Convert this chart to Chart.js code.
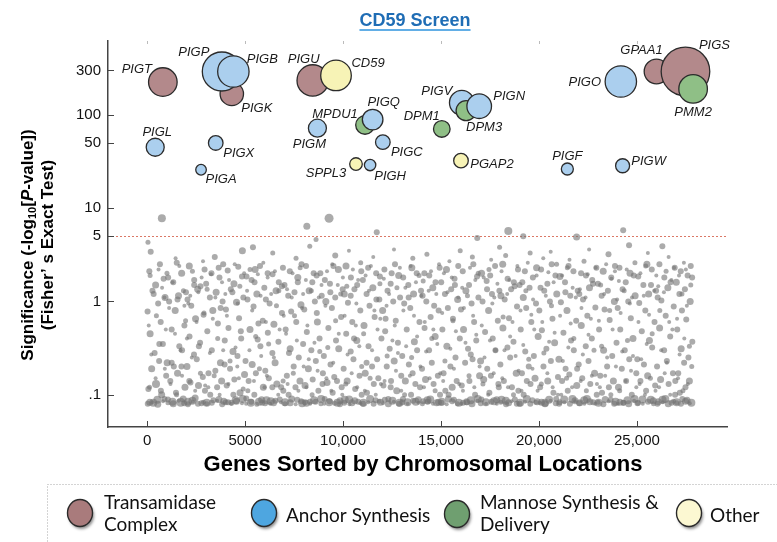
<!DOCTYPE html>
<html>
<head>
<meta charset="utf-8">
<script src="https://cdn.jsdelivr.net/npm/chart.js@4.4.1/dist/chart.umd.min.js"></script>
<style>
  body { margin: 0; background: #fff; }
  #wrap { position: relative; width: 777px; height: 542px; }
</style>
</head>
<body>
<div id="wrap"><canvas id="screenChart" width="777" height="542"></canvas></div>
<script>
// highlighted hits: x = gene rank by chromosomal location, y = -log10(P), r = bubble radius
const geneNames = ["PIGT", "PIGK", "PIGP", "PIGB", "PIGU", "CD59", "PIGM", "MPDU1", "PIGQ", "PIGC", "PIGL", "PIGX", "PIGA",
  "SPPL3", "PIGH", "DPM1", "PIGV", "DPM3", "PIGN", "PGAP2", "PIGF", "PIGW", "PIGO", "GPAA1", "PIGS", "PMM2"];
const geneX = [800, 4320, 3810, 4400, 8450, 9640, 8690, 11120, 11510, 12030, 410, 3500, 2750,
  10660, 11380, 15040, 16060, 16280, 16950, 16020, 21450, 24270, 24180, 26000, 27480, 27870];
const geneY = [225, 168, 292, 292, 234, 265, 72, 78, 89, 51, 45, 50, 25.8,
  29.7, 29, 70.7, 135, 111, 124, 32.3, 26.3, 28.5, 228, 292, 292, 190];
const geneR = [14.3, 11.7, 19.5, 15.7, 15.7, 15.3, 9, 9.3, 10.3, 7.3, 9, 7.3, 5.3,
  6.3, 5.7, 8.3, 12.3, 10, 12.3, 7.3, 6, 7, 15.7, 12.3, 24.3, 14.3];
// 0 transamidase complex, 1 anchor synthesis, 2 mannose synthesis & delivery, 3 other
const geneGroup = [0, 0, 1, 1, 0, 3, 1, 2, 1, 1, 1, 1, 1, 3, 1, 2, 1, 2, 1, 3, 1, 1, 1, 0, 0, 2];

// all the other genes of the screen [x, y, r]
const otherGenes = [
  [30,.08,3],[260,.083,2],[540,.079,3.5],[810,.085,2],[120,.12,2.5],[430,.15,2],[700,.11,3],[900,.19,2],[210,.27,2],[620,.35,3],[80,.55,2],[470,.7,2.5],[330,1.2,3],[760,1.4,2],[150,1.9,2.5],[580,2.2,2],[880,1.1,2],[40,4.3,2.5],[180,3.4,3],[950,.5,2],
  [1060,.082,2.5],[1330,.08,3.5],[1610,.086,2],[1890,.081,3],[1190,.13,2],[1500,.1,2.5],[1780,.16,2],[1250,.22,3],[1700,.3,2],[1420,.45,2],[1960,.62,2.5],[1120,.85,2],[1550,1.05,3],[1300,1.6,2],[1850,1.3,2.5],[1640,2.4,2],[1010,2.0,2.5],[1450,2.9,2],[1750,.2,3],[1900,.9,2],
  [2080,.079,3],[2340,.084,2],[2590,.08,3],[2870,.083,2.5],[2150,.14,3],[2450,.11,2],[2720,.17,2.5],[2960,.125,2],[2280,.25,2],[2640,.33,3],[2030,.4,2],[2520,.6,2],[2900,.75,2.5],[2200,1.15,2],[2400,1.5,3],[2780,1.8,2],[2610,1.25,2],[2310,2.1,2.5],[2850,2.7,2],[2100,.95,2],
  [3040,.08,2.5],[3300,.082,3],[3570,.086,2],[3830,.079,3],[3120,.12,2],[3420,.16,2.5],[3700,.1,2],[3950,.21,3],[3200,.28,2],[3600,.4,2.5],[3880,.3,2],[3350,.65,2],[3750,.85,3],[3060,1.35,2.5],[3480,1.1,2],[3820,1.6,2],[3260,1.95,2],[3650,2.3,3],[3450,3.0,3],[3990,1.2,2],
  [4010,.083,3],[4290,.08,2],[4560,.085,3.5],[4840,.081,2],[4150,.13,2],[4400,.1,3],[4680,.15,2],[4900,.115,2.5],[4230,.23,2.5],[4510,.32,2],[4780,.48,3],[4070,.7,2],[4620,.95,2],[4350,1.25,3],[4730,1.45,2.5],[4180,1.7,2],[4950,2.0,2],[4470,2.5,2],[4860,3.5,3.5],[4600,.2,2],
  [5050,.08,2],[5310,.084,3],[5600,.079,2.5],[5870,.082,3],[5140,.11,2.5],[5450,.14,2],[5730,.19,2.5],[5990,.12,2],[5220,.3,2],[5540,.42,2.5],[5820,.26,2],[5360,.8,2],[5680,.58,3],[5100,1.3,2],[5480,1.6,3],[5790,1.15,2],[5250,2.2,2.5],[5650,1.95,2],[5930,2.6,2],[5400,3.8,3],
  [6020,.081,3],[6280,.08,2],[6550,.086,3],[6830,.083,2],[6110,.16,2],[6390,.12,3],[6690,.1,2],[6940,.14,2.5],[6200,.35,2.5],[6470,.25,2],[6760,.5,2],[6060,.6,2],[6600,.9,2.5],[6330,1.2,2],[6880,1.45,3],[6150,1.8,2],[6520,2.1,2],[6720,1.3,2.5],[6410,3.3,2.5],[6970,.7,2],
  [7030,.08,2.5],[7300,.082,3.5],[7580,.079,2],[7860,.085,3],[7170,.13,2],[7460,.17,2.5],[7720,.11,2],[7990,.2,2],[7240,.28,3],[7640,.38,2],[7090,.45,2],[7520,.7,2.5],[7900,.85,2],[7380,1.1,2],[7690,1.6,3],[7140,1.35,2],[7810,2.3,2.5],[7420,2.0,2],[7600,2.9,2.5],[7960,1.2,2],
  [8050,.083,3],[8320,.08,2],[8600,.084,3],[8870,.08,2.5],[8130,.12,2],[8420,.1,2.5],[8700,.18,2],[8950,.13,3],[8250,.24,2],[8540,.36,2],[8810,.29,2.5],[8180,.55,2],[8660,.75,3],[8380,1.3,2.5],[8760,1.1,2],[8100,1.7,2],[8500,2.0,3],[8900,1.5,2],[8300,3.9,2.5],[8620,4.6,2.5],
  [9040,.08,2],[9310,.085,3],[9570,.081,2.5],[9840,.079,3],[9150,.15,2],[9400,.11,2],[9690,.14,3],[9960,.1,2],[9220,.32,2.5],[9500,.22,2],[9780,.45,2],[9100,.9,2],[9620,.62,2.5],[9350,1.25,3],[9730,1.5,2],[9180,2.1,2],[9880,1.2,2.5],[9450,2.5,2],[9600,3.1,3],[9990,1.8,2],
  [10060,.082,3],[10330,.079,2],[10600,.086,3.5],[10880,.081,2],[10140,.13,2.5],[10440,.17,2],[10720,.12,2],[10950,.2,2.5],[10230,.27,2],[10560,.4,3],[10830,.33,2],[10080,.7,2],[10680,.95,2],[10390,1.15,3],[10770,1.7,2],[10190,1.45,2.5],[10500,2.2,2],[10900,2.6,2.5],[10300,3.5,2],[10650,.55,2],
  [11020,.08,3],[11290,.083,2],[11560,.08,3],[11840,.085,2.5],[11110,.11,2],[11380,.15,2.5],[11670,.1,2],[11930,.13,2],[11200,.22,3],[11480,.3,2],[11760,.5,2],[11050,.45,2.5],[11600,.8,2],[11320,1.3,2],[11700,1.05,3],[11150,1.9,2],[11880,1.55,2.5],[11420,2.4,2],[11540,3.0,2],[11900,.65,2],
  [12040,.081,2],[12310,.08,3.5],[12590,.084,2],[12860,.08,3],[12120,.14,2],[12430,.12,3],[12700,.18,2],[12970,.11,2],[12250,.26,2.5],[12520,.38,2],[12800,.28,2],[12170,.65,3],[12640,.55,2],[12350,1.2,2],[12750,1.4,2.5],[12080,1.75,2],[12480,2.0,3],[12900,2.3,2],[12600,3.6,2],[12220,.9,2],
  [13030,.083,3],[13300,.08,2],[13580,.086,3],[13850,.082,2],[13140,.1,2.5],[13410,.16,2],[13690,.13,3],[13950,.2,2],[13220,.33,2],[13500,.25,2.5],[13780,.42,2],[13080,.8,2],[13620,.7,2],[13350,1.1,3],[13720,1.6,2],[13180,1.4,2],[13880,1.9,2.5],[13450,2.4,2],[13560,2.9,2.5],[13990,1.15,2],
  [14050,.08,2.5],[14320,.084,3],[14590,.08,2],[14870,.083,3.5],[14130,.12,2],[14420,.15,2],[14700,.11,2.5],[14960,.17,2],[14240,.29,2],[14530,.4,2.5],[14810,.35,2],[14170,.6,2],[14650,.9,3],[14370,1.3,2],[14760,1.2,2],[14090,1.65,2.5],[14490,2.1,2],[14900,2.5,2],[14280,3.2,2.5],[14610,.5,2],
  [15020,.082,3],[15290,.079,2],[15570,.085,3],[15840,.08,2.5],[15110,.14,2],[15390,.1,3],[15660,.19,2],[15930,.13,2],[15200,.23,2.5],[15480,.31,2],[15760,.48,2],[15060,.75,2],[15610,.62,2.5],[15330,1.25,2],[15710,1.5,3],[15150,2.0,2],[15880,1.1,2],[15430,2.7,2],[15550,1.8,2],[15980,3.5,2.5],
  [16040,.08,2],[16310,.083,3],[16580,.08,3.5],[16860,.086,2],[16120,.11,2],[16430,.16,2.5],[16700,.12,2],[16970,.2,2],[16250,.36,2],[16520,.27,3],[16800,.44,2],[16170,.85,2],[16640,.7,2],[16350,1.15,2.5],[16750,1.7,2],[16080,1.4,2],[16480,2.3,2],[16900,2.0,2.5],[16600,3.0,2.5],[16850,4.8,3],
  [17030,.081,3],[17300,.08,2],[17570,.084,3],[17850,.08,2],[17140,.13,2.5],[17410,.1,2],[17690,.17,2],[17950,.12,3],[17220,.25,2],[17500,.38,2],[17780,.3,2.5],[17080,.55,2],[17620,.95,2],[17350,1.35,3],[17720,1.1,2],[17180,1.8,2],[17880,1.55,2],[17450,2.2,2.5],[17560,2.8,2],[17990,3.8,2.5],
  [18050,.083,2.5],[18320,.079,3],[18600,.085,2],[18870,.08,3],[18130,.15,2],[18420,.12,2],[18700,.1,2.5],[18960,.18,2],[18240,.3,2],[18530,.42,2],[18810,.26,2],[18170,.68,2.5],[18650,.6,2],[18380,1.2,2],[18760,1.45,3],[18090,2.1,2],[18490,1.7,2],[18900,2.4,2],[18300,3.1,2.5],[18436,5.7,4],
  [19020,.08,3],[19290,.084,2],[19560,.08,3],[19840,.083,2.5],[19110,.11,2],[19380,.14,3],[19670,.19,2],[19930,.11,2],[19200,.34,2],[19480,.24,2.5],[19760,.5,2],[19060,.8,2],[19610,.72,2],[19330,1.3,2.5],[19700,1.05,2],[19150,1.6,3],[19880,1.9,2],[19430,2.6,2],[19200,5.0,3],[19550,3.3,2.5],
  [20040,.082,2],[20310,.08,3.5],[20590,.086,2],[20860,.081,3],[20120,.13,2.5],[20430,.17,2],[20700,.12,2],[20970,.1,2],[20250,.28,2.5],[20520,.37,2],[20800,.46,2],[20170,.6,2],[20640,.9,2.5],[20350,1.15,2],[20750,1.6,2],[20080,1.4,3],[20480,2.05,2],[20900,2.5,2.5],[20600,3.4,2],[20220,2.9,2],
  [21030,.08,3],[21300,.083,2],[21580,.08,3],[21850,.085,2],[21140,.1,2],[21410,.15,2.5],[21690,.12,2],[21950,.19,3],[21220,.23,2],[21500,.32,2],[21780,.4,2.5],[21080,.7,2],[21620,.58,2],[21350,1.25,3],[21720,1.4,2],[21180,1.9,2],[21880,1.1,2],[21450,2.3,2.5],[21923,4.9,3.5],[21560,2.8,2],
  [22050,.081,3],[22320,.08,2],[22600,.084,3.5],[22870,.08,2],[22130,.14,2],[22420,.11,2.5],[22700,.16,2],[22960,.13,2],[22240,.27,2],[22530,.44,2],[22810,.3,2.5],[22170,.85,2],[22650,.65,2],[22380,1.1,2],[22760,1.55,3],[22090,1.35,2],[22490,1.95,2],[22900,2.3,2],[22300,2.7,2.5],[22560,3.6,2],
  [23020,.083,2.5],[23290,.079,3],[23560,.085,2],[23840,.08,3],[23110,.12,2],[23380,.16,2],[23670,.1,2.5],[23930,.2,2],[23200,.33,2.5],[23480,.25,2],[23760,.5,2],[23060,.62,2],[23610,.8,2.5],[23330,1.2,2],[23700,1.75,2],[23150,1.5,2.5],[23880,2.1,2],[23430,2.5,2],[23550,3.2,3],[23990,1.05,2],
  [24040,.08,2],[24310,.082,3],[24580,.08,3.5],[24860,.086,2],[24120,.11,2.5],[24430,.14,2],[24700,.18,2],[24970,.12,2],[24250,.29,2],[24520,.38,2.5],[24800,.26,2],[24170,.75,2],[24640,.95,2],[24350,1.3,2.5],[24750,1.1,2],[24080,1.65,2],[24480,2.2,2],[24900,2.6,2.5],[24300,5.8,3],[24600,4.0,3],
  [25030,.081,3],[25300,.08,2],[25570,.084,3],[25850,.08,2.5],[25140,.13,2],[25410,.1,2],[25690,.15,2.5],[25950,.11,2],[25220,.24,2],[25500,.35,2],[25780,.45,2.5],[25080,.6,2],[25620,.72,2],[25350,1.15,2],[25720,1.5,3],[25180,2.0,2],[25880,1.3,2],[25450,2.4,2.5],[25560,3.3,2],[25990,1.9,2],
  [26050,.08,3],[26320,.083,2],[26600,.08,3.5],[26870,.085,2.5],[26130,.12,2],[26420,.17,2],[26700,.1,2],[26960,.14,3],[26240,.3,2],[26530,.22,2],[26810,.5,2],[26170,.8,2.5],[26650,.6,2],[26380,1.25,2],[26760,1.7,2],[26090,1.45,2],[26490,2.1,2.5],[26900,2.3,2],[26300,3.9,3],[26620,3.0,2],
  [27030,.082,2.5],[27250,.08,3],[27480,.085,3.5],[27700,.081,2],[27100,.15,2],[27350,.11,2.5],[27600,.13,2],[27800,.2,2.5],[27180,.27,2],[27420,.4,2],[27680,.33,2.5],[27050,.65,2],[27550,.9,2],[27300,1.2,2.5],[27750,1.5,2.5],[27150,1.9,2],[27500,2.2,2],[27820,1.8,3],[27400,2.6,2],
  [750,7.8,4],[8150,6.4,3.5],[9286,7.8,4.5],[11720,5.5,3],
  [520,.088,4],[130,.083,3.5],[880,.09,3],[310,.082,4],[740,.1,3.5],[60,.115,3],[450,.13,4],[970,.16,3],[230,.19,3.5],[610,.23,3],[380,.28,3],[800,.35,3],[150,.45,3.5],[690,.6,3],[20,.78,3],[560,.95,3],[910,1.1,3.5],[270,1.3,3],[430,1.5,3.5],[840,1.75,3],[110,2.1,3],[650,2.5,3],
  [1840,.09,3.5],[1290,.084,4],[1060,.089,3],[1710,.083,4.5],[1470,.105,3],[1930,.12,3.5],[1180,.14,3],[1550,.17,3.5],[1360,.2,3],[1020,.22,3.5],[1780,.3,3],[1640,.33,3],[1250,.5,3],[1900,.55,3],[1430,.8,3.5],[1120,1.0,3],[1600,1.15,3.5],[1980,1.25,3],[1330,1.6,3],[1070,1.8,3],[1760,2.0,3.5],[1510,2.6,3],
  [2310,.086,4],[2770,.081,3],[2450,.092,3.5],[2090,.084,4],[2950,.11,3],[2620,.125,3.5],[2210,.135,3],[2840,.155,3],[2030,.2,3.5],[2530,.24,3],[2390,.27,3],[2700,.36,3],[2160,.42,3],[2470,.65,3.5],[2880,.72,3],[2250,.9,3],[2060,1.05,3],[2580,1.35,3.5],[2720,1.45,3],[2400,1.7,3],[2930,2.2,3],[2150,2.4,3.5],
  [3660,.089,3.5],[3040,.082,4],[3380,.087,3],[3910,.085,3.5],[3220,.1,3],[3570,.12,3],[3800,.14,3.5],[3130,.17,3],[3480,.18,3],[3740,.22,3.5],[3300,.3,3],[3960,.38,3],[3070,.48,3],[3610,.58,3],[3350,.8,3.5],[3850,1.0,3],[3200,1.1,3],[3520,1.25,3.5],[3010,1.55,3],[3690,1.8,3],[3280,2.0,3],[3880,2.5,3],
  [4520,.087,4],[4130,.083,3],[4880,.09,4],[4310,.082,3],[4740,.105,3.5],[4060,.125,3],[4450,.145,3],[4970,.165,3.5],[4230,.19,3],[4610,.26,3],[4380,.29,3.5],[4800,.4,3],[4150,.52,3],[4690,.66,3],[4020,.82,3],[4560,.98,3.5],[4910,1.1,3],[4270,1.35,3],[4430,1.55,3.5],[4840,1.85,3],[4110,2.15,3],[4650,2.35,3],
  [5840,.088,3.5],[5290,.082,4],[5060,.091,3],[5710,.084,4],[5470,.1,3],[5930,.12,3.5],[5180,.14,3],[5550,.17,3],[5360,.21,3.5],[5020,.23,3],[5780,.33,3],[5640,.39,3],[5250,.5,3.5],[5900,.62,3],[5430,.88,3],[5120,1.05,3],[5600,1.2,3.5],[5980,1.4,3],[5330,1.7,3],[5070,1.85,3],[5760,2.4,3],[5510,2.2,3.5],
  [6310,.085,4],[6770,.089,3],[6450,.082,3.5],[6090,.087,4],[6950,.11,3],[6620,.13,3.5],[6210,.15,3],[6840,.12,3],[6030,.18,3],[6530,.22,3.5],[6390,.28,3],[6700,.37,3],[6160,.46,3],[6470,.57,3.5],[6880,.75,3],[6250,.95,3],[6060,1.05,3],[6580,1.3,3.5],[6720,1.6,3],[6400,1.95,3],[6930,2.3,3],[6150,2.0,3],
  [7660,.088,3],[7040,.083,4],[7380,.09,3.5],[7910,.081,4],[7220,.1,3],[7570,.12,3],[7800,.14,3.5],[7130,.16,3],[7480,.2,3],[7740,.25,3],[7300,.31,3.5],[7960,.35,3],[7070,.5,3],[7610,.6,3],[7350,.78,3],[7850,.92,3.5],[7200,1.15,3],[7520,1.25,3],[7010,1.5,3],[7690,1.8,3.5],[7280,2.1,3],[7880,2.5,3],
  [8520,.087,4],[8130,.081,3.5],[8880,.09,4],[8310,.084,3],[8740,.11,3],[8060,.125,3.5],[8450,.145,3],[8970,.17,3],[8230,.19,3.5],[8610,.23,3],[8380,.3,3],[8800,.4,3],[8150,.47,3],[8690,.6,3.5],[8020,.82,3],[8560,1.0,3],[8910,1.15,3],[8270,1.3,3.5],[8430,1.6,3],[8840,2.0,3],[8110,2.4,3],[8650,1.9,3],
  [9840,.086,3.5],[9290,.083,4],[9060,.09,3],[9710,.082,4],[9470,.105,3],[9930,.12,3],[9180,.135,3.5],[9550,.155,3],[9360,.21,3],[9020,.26,3],[9780,.31,3.5],[9640,.38,3],[9250,.52,3],[9900,.68,3],[9430,.85,3],[9120,1.0,3.5],[9600,1.1,3],[9980,1.35,3],[9330,1.55,3],[9070,1.7,3],[9760,2.2,3.5],[9510,2.4,3],
  [10310,.089,4],[10770,.084,3],[10450,.082,3.5],[10090,.088,4],[10950,.1,3],[10620,.115,3],[10210,.14,3.5],[10840,.16,3],[10030,.19,3],[10530,.24,3],[10390,.29,3],[10700,.38,3.5],[10160,.45,3],[10470,.6,3],[10880,.8,3],[10250,.97,3],[10060,1.2,3.5],[10580,1.35,3],[10720,1.5,3],[10400,1.8,3],[10930,2.1,3],[10150,2.4,3.5],
  [11660,.087,3],[11040,.082,4],[11380,.09,4],[11910,.083,3.5],[11220,.105,3],[11570,.13,3],[11800,.15,3],[11130,.17,3.5],[11480,.2,3],[11740,.24,3],[11300,.33,3],[11960,.4,3],[11070,.55,3.5],[11610,.68,3],[11350,.9,3],[11850,1.05,3],[11200,1.2,3],[11520,1.4,3.5],[11010,1.7,3],[11690,2.0,3],[11280,2.3,3],[11880,1.85,3],
  [12520,.086,4],[12130,.088,3],[12880,.082,4],[12310,.09,3],[12740,.11,3.5],[12060,.125,3],[12450,.14,3],[12970,.16,3],[12230,.2,3],[12610,.23,3.5],[12380,.31,3],[12800,.36,3],[12150,.48,3],[12690,.62,3],[12020,.8,3.5],[12560,1.0,3],[12910,1.1,3],[12270,1.3,3],[12430,1.55,3],[12840,1.9,3.5],[12110,2.2,3],[12650,2.5,3],
  [13840,.088,3.5],[13290,.083,4],[13060,.09,3],[13710,.084,4],[13470,.1,3],[13930,.12,3],[13180,.14,3.5],[13550,.17,3],[13360,.21,3],[13020,.26,3],[13780,.3,3],[13640,.37,3.5],[13250,.5,3],[13900,.6,3],[13430,.85,3],[13120,.95,3],[13600,1.2,3.5],[13980,1.3,3],[13330,1.5,3],[13070,1.8,3],[13760,2.0,3],[13510,2.3,3.5],
  [14310,.087,4],[14770,.082,3.5],[14450,.089,4],[14090,.085,3],[14950,.1,3],[14620,.13,3],[14210,.145,3.5],[14840,.16,3],[14030,.19,3],[14530,.22,3],[14390,.3,3],[14700,.42,3.5],[14160,.52,3],[14470,.68,3],[14880,.8,3],[14250,1.0,3],[14060,1.15,3],[14580,1.4,3.5],[14720,1.6,3],[14400,1.9,3],[14930,2.3,3],[14150,2.0,3],
  [15660,.088,3],[15040,.084,4],[15380,.09,3.5],[15910,.082,4],[15220,.11,3],[15570,.12,3.5],[15800,.14,3],[15130,.17,3],[15480,.2,3],[15740,.25,3],[15300,.33,3.5],[15960,.4,3],[15070,.5,3],[15610,.65,3],[15350,.85,3],[15850,1.05,3.5],[15200,1.2,3],[15520,1.35,3],[15010,1.6,3],[15690,1.75,3],[15280,2.2,3.5],[15880,2.4,3],
  [16520,.087,4],[16130,.082,3],[16880,.09,4],[16310,.084,3.5],[16740,.1,3],[16060,.125,3],[16450,.14,3],[16970,.16,3.5],[16230,.22,3],[16610,.24,3],[16380,.31,3],[16800,.38,3],[16150,.5,3.5],[16690,.6,3],[16020,.82,3],[16560,.95,3],[16910,1.1,3],[16270,1.3,3.5],[16430,1.5,3],[16840,1.85,3],[16110,2.1,3],[16650,2.5,3],
  [17840,.088,3.5],[17290,.083,4],[17060,.089,3],[17710,.085,4],[17470,.105,3],[17930,.13,3],[17180,.145,3.5],[17550,.16,3],[17360,.19,3],[17020,.23,3.5],[17780,.3,3],[17640,.4,3],[17250,.47,3],[17900,.62,3],[17430,.8,3.5],[17120,1.0,3],[17600,1.2,3],[17980,1.3,3],[17330,1.65,3],[17070,2.0,3.5],[17760,2.4,3],[17510,1.9,3],
  [18310,.086,4],[18770,.089,3],[18450,.082,3.5],[18090,.088,4],[18950,.11,3],[18620,.12,3],[18210,.14,3],[18840,.17,3.5],[18030,.21,3],[18530,.25,3],[18390,.32,3],[18700,.37,3],[18160,.52,3.5],[18470,.66,3],[18880,.88,3],[18250,1.05,3],[18060,1.15,3.5],[18580,1.35,3],[18720,1.6,3],[18400,1.75,3],[18930,2.2,3],[18150,2.5,3.5],
  [19660,.087,3],[19040,.082,4],[19380,.09,4],[19910,.084,3.5],[19220,.1,3],[19570,.13,3],[19800,.15,3.5],[19130,.17,3],[19480,.2,3],[19740,.26,3],[19300,.29,3],[19960,.42,3.5],[19070,.5,3],[19610,.6,3],[19350,.85,3],[19850,.95,3],[19200,1.1,3.5],[19520,1.4,3],[19010,1.5,3],[19690,1.8,3],[19280,2.1,3],[19880,2.3,3.5],
  [20520,.088,4],[20130,.083,3.5],[20880,.09,3],[20310,.082,4],[20740,.105,3],[20060,.12,3],[20450,.14,3.5],[20970,.155,3],[20230,.2,3],[20610,.23,3],[20380,.31,3],[20800,.36,3.5],[20150,.49,3],[20690,.65,3],[20020,.8,3],[20560,1.0,3],[20910,1.2,3.5],[20270,1.3,3],[20430,1.55,3],[20840,1.9,3],[20110,2.2,3],[20650,2.5,3],
  [21840,.086,3.5],[21290,.089,4],[21060,.083,3],[21710,.09,4],[21470,.11,3],[21930,.125,3.5],[21180,.14,3],[21550,.165,3],[21360,.19,3],[21020,.24,3.5],[21780,.3,3],[21640,.38,3],[21250,.46,3],[21900,.62,3],[21430,.8,3.5],[21120,.98,3],[21600,1.15,3],[21980,1.3,3],[21330,1.6,3],[21070,1.85,3.5],[21760,2.1,3],[21510,2.4,3],
  [22310,.087,4],[22770,.083,3],[22450,.09,4],[22090,.082,3.5],[22950,.1,3],[22620,.13,3],[22210,.15,3],[22840,.17,3.5],[22030,.21,3],[22530,.23,3],[22390,.33,3],[22700,.4,3],[22160,.55,3.5],[22470,.7,3],[22880,.86,3],[22250,1.05,3],[22060,1.2,3],[22580,1.4,3.5],[22720,1.7,3],[22400,1.9,3],[22930,2.3,3],[22150,2.0,3],
  [23660,.088,3],[23040,.082,4],[23380,.089,3.5],[23910,.084,4],[23220,.105,3],[23570,.12,3],[23800,.14,3.5],[23130,.16,3],[23480,.2,3],[23740,.26,3],[23300,.3,3.5],[23960,.36,3],[23070,.5,3],[23610,.63,3],[23350,.82,3],[23850,1.0,3.5],[23200,1.15,3],[23520,1.3,3],[23010,1.55,3],[23690,1.8,3],[23280,2.1,3.5],[23880,2.4,3],
  [24520,.087,4],[24130,.083,3.5],[24880,.09,4],[24310,.082,3],[24740,.1,3],[24060,.12,3.5],[24450,.14,3],[24970,.17,3],[24230,.19,3],[24610,.24,3],[24380,.3,3],[24800,.4,3.5],[24150,.5,3],[24690,.66,3],[24020,.85,3],[24560,1.0,3],[24910,1.15,3.5],[24270,1.35,3],[24430,1.6,3],[24840,1.9,3],[24110,2.3,3],[24650,2.0,3.5],
  [25840,.086,3.5],[25290,.089,4],[25060,.082,3],[25710,.088,4],[25470,.11,3],[25930,.125,3],[25180,.14,3],[25550,.16,3.5],[25360,.21,3],[25020,.24,3],[25780,.32,3],[25640,.38,3.5],[25250,.48,3],[25900,.6,3],[25430,.8,3],[25120,.96,3],[25600,1.2,3.5],[25980,1.3,3],[25330,1.5,3],[25070,1.85,3],[25760,2.2,3],[25510,2.5,3.5],
  [26310,.088,4],[26770,.082,3],[26450,.09,4],[26090,.084,3.5],[26950,.1,3],[26620,.13,3],[26210,.145,3.5],[26840,.17,3],[26030,.2,3],[26530,.23,3],[26390,.3,3],[26700,.42,3],[26160,.52,3.5],[26470,.7,3],[26880,.88,3],[26250,1.02,3],[26060,1.1,3],[26580,1.4,3.5],[26720,1.6,3],[26400,1.8,3],[26930,2.3,3],[26150,2.5,3],
  [27560,.087,3.5],[27030,.083,4],[27320,.09,3],[27780,.082,4],[27190,.105,3],[27480,.12,3],[27680,.14,3.5],[27110,.17,3],[27410,.22,3],[27630,.25,3],[27260,.31,3.5],[27830,.37,3],[27060,.5,3],[27520,.64,3],[27300,.8,3],[27720,1.0,3.5],[27170,1.2,3],[27450,1.35,3],[27010,1.6,3.5],[27590,1.9,3],[27240,2.1,3],[27750,2.4,3]
];

const xTicks = [0, 5000, 10000, 15000, 20000, 25000];
const xTickLabels = ["0", "5000", "10,000", "15,000", "20,000", "25,000"];
const yTicks = [0.1, 1, 5, 10, 50, 100, 300];
const yTickLabels = [".1", "1", "5", "10", "50", "100", "300"];
const cutoff = 5;

const groupNames = [["Transamidase", "Complex"], ["Anchor Synthesis"], ["Mannose Synthesis &", "Delivery"], ["Other"]];
const groupColors = ["#b3898b", "#abcfee", "#8fbf86", "#f7f3b6"];
const legendColors = ["#a97b7c", "#4ea6e0", "#6f9f70", "#fcf8d2"];

// where each gene name sits relative to its bubble (px)
const labelOffset = {
  PIGT: [-26, -13], PIGK: [25, 15], PIGP: [-28, -19], PIGB: [29, -12], PIGU: [-9, -21], CD59: [32, -12],
  PIGM: [-8, 16], MPDU1: [-30, -11], PIGQ: [11, -17], PIGC: [24, 10], PIGL: [2, -15], PIGX: [23, 10],
  PIGA: [20, 10], SPPL3: [-30, 9], PIGH: [20, 11], DPM1: [-20, -13], PIGV: [-25, -11], DPM3: [18, 17],
  PIGN: [30, -10], PGAP2: [31, 4], PIGF: [0, -13], PIGW: [26, -4], PIGO: [-36, 1], GPAA1: [-15, -21],
  PIGS: [29, -26], PMM2: [0, 23]
};

const ARIAL = 'Arial, "Liberation Sans", sans-serif';

const decor = {
  id: 'decor',
  beforeDatasetsDraw(chart) {
    const { ctx, chartArea: a, scales: { y } } = chart;
    const py = Math.round(y.getPixelForValue(cutoff)) + 0.5;
    ctx.save();
    ctx.strokeStyle = 'rgba(215,105,85,0.9)';
    ctx.lineWidth = 1;
    ctx.setLineDash([2, 2]);
    ctx.beginPath();
    ctx.moveTo(a.left, py);
    ctx.lineTo(a.right, py);
    ctx.stroke();
    ctx.restore();
  },
  afterDraw(chart) {
    const { ctx, chartArea: a, scales: { x, y } } = chart;
    ctx.save();

    // inward tick marks
    ctx.strokeStyle = '#444';
    ctx.lineWidth = 1;
    yTicks.forEach(v => {
      const py = Math.round(y.getPixelForValue(v)) + 0.5;
      ctx.beginPath(); ctx.moveTo(a.left, py); ctx.lineTo(a.left + 6, py); ctx.stroke();
    });
    xTicks.forEach(v => {
      const px = Math.round(x.getPixelForValue(v)) + 0.5;
      ctx.beginPath(); ctx.moveTo(px, a.bottom); ctx.lineTo(px, a.bottom - 6); ctx.stroke();
    });
    ctx.strokeStyle = '#bbb';
    xTicks.forEach(v => {
      const px = Math.round(x.getPixelForValue(v)) + 0.5;
      ctx.beginPath(); ctx.moveTo(px, a.top); ctx.lineTo(px, a.top + 3); ctx.stroke();
    });

    // gene labels
    const meta = chart.getDatasetMeta(0);
    ctx.fillStyle = '#1a1a1a';
    ctx.font = 'italic 13px ' + ARIAL;
    ctx.textAlign = 'center';
    ctx.textBaseline = 'middle';
    meta.data.forEach((pt, i) => {
      const off = labelOffset[geneNames[i]];
      ctx.fillText(geneNames[i], pt.x + off[0], pt.y + off[1]);
    });

    // title
    ctx.fillStyle = '#1f6db5';
    ctx.font = 'bold 18px ' + ARIAL;
    ctx.textBaseline = 'alphabetic';
    ctx.fillText('CD59 Screen', 415, 26);
    const tw = ctx.measureText('CD59 Screen').width;
    ctx.fillStyle = '#62aee6';
    ctx.fillRect(415 - tw / 2, 29, tw, 2);

    // x axis title
    ctx.fillStyle = '#000';
    ctx.font = 'bold 22px ' + ARIAL;
    ctx.textBaseline = 'middle';
    ctx.fillText('Genes Sorted by Chromosomal Locations', 423, 465);

    // y axis title (rotated, with subscript and italic P)
    const runs = [
      ['Significance (-log', 'bold 17px', 0],
      ['10', 'bold 11px', 5],
      ['[', 'bold 17px', 0],
      ['P', 'italic bold 17px', 0],
      ['-value])', 'bold 17px', 0]
    ];
    ctx.save();
    ctx.translate(28, 245);
    ctx.rotate(-Math.PI / 2);
    ctx.textAlign = 'left';
    let total = 0;
    runs.forEach(r => { ctx.font = r[1] + ' ' + ARIAL; total += ctx.measureText(r[0]).width; });
    let cx = -total / 2;
    runs.forEach(r => {
      ctx.font = r[1] + ' ' + ARIAL;
      ctx.fillText(r[0], cx, r[2]);
      cx += ctx.measureText(r[0]).width;
    });
    ctx.restore();
    ctx.save();
    ctx.translate(48, 245);
    ctx.rotate(-Math.PI / 2);
    ctx.font = 'bold 17px ' + ARIAL;
    ctx.textAlign = 'center';
    ctx.fillText('(Fisher\u2019 s Exact Test)', 0, 0);
    ctx.restore();

    // legend box
    ctx.strokeStyle = '#a8a8a8';
    ctx.lineWidth = 1;
    ctx.setLineDash([1, 2]);
    ctx.strokeRect(47.5, 484.5, 760, 80);
    ctx.setLineDash([]);
    const centers = [[80, 513], [264, 513], [457, 514], [689, 513]];
    const textX = [104, 286, 480, 710];
    ctx.font = '19px Lato, "Open Sans", sans-serif';
    ctx.textAlign = 'left';
    groupNames.forEach((lines, i) => {
      const [cx0, cy0] = centers[i];
      ctx.save();
      ctx.shadowColor = 'rgba(0,0,0,0.45)';
      ctx.shadowOffsetX = 1.5;
      ctx.shadowOffsetY = 2.5;
      ctx.shadowBlur = 3;
      ctx.fillStyle = legendColors[i];
      ctx.beginPath();
      ctx.ellipse(cx0, cy0, 12.5, 13.5, 0, 0, Math.PI * 2);
      ctx.fill();
      ctx.restore();
      ctx.strokeStyle = '#2a2a2a';
      ctx.lineWidth = 1.4;
      ctx.beginPath();
      ctx.ellipse(cx0, cy0, 12.5, 13.5, 0, 0, Math.PI * 2);
      ctx.stroke();
      ctx.fillStyle = '#111';
      if (lines.length === 2) {
        ctx.fillText(lines[0], textX[i], 503);
        ctx.fillText(lines[1], textX[i], 525);
      } else {
        ctx.fillText(lines[0], textX[i], 516);
      }
    });
    ctx.restore();
  }
};

new Chart(document.getElementById('screenChart'), {
  type: 'bubble',
  data: {
    datasets: [
      {
        label: 'Hits',
        data: geneNames.map((n, i) => ({ x: geneX[i], y: geneY[i], r: geneR[i] })),
        backgroundColor: geneGroup.map(g => groupColors[g]),
        borderColor: '#2b2b2b',
        borderWidth: 1.3,
        clip: false
      },
      {
        label: 'Other genes',
        data: otherGenes.map(p => ({ x: p[0], y: p[1], r: p[2] })),
        backgroundColor: 'rgba(115,115,115,0.6)',
        borderWidth: 0
      }
    ]
  },
  options: {
    responsive: false,
    animation: false,
    events: [],
    layout: { padding: { top: 41, right: 50, left: 0, bottom: 0 } },
    plugins: { legend: { display: false }, tooltip: { enabled: false } },
    scales: {
      x: {
        type: 'linear',
        min: -2000,
        max: 29600,
        afterBuildTicks: s => { s.ticks = xTicks.map(v => ({ value: v })); },
        afterFit: s => { s.height = 115; },
        ticks: {
          padding: 5,
          color: '#111',
          font: { family: ARIAL, size: 15 },
          maxRotation: 0,
          callback: v => xTickLabels[xTicks.indexOf(v)]
        },
        grid: { display: false, drawTicks: false },
        border: { display: true, color: '#444', width: 1.5 }
      },
      y: {
        type: 'logarithmic',
        min: 0.045,
        max: 620,
        afterBuildTicks: s => { s.ticks = yTicks.map(v => ({ value: v })); },
        afterFit: s => { s.width = 108; },
        ticks: {
          padding: 7,
          color: '#111',
          font: { family: ARIAL, size: 15 },
          callback: v => yTickLabels[yTicks.indexOf(v)]
        },
        grid: { display: false, drawTicks: false },
        border: { display: true, color: '#444', width: 1.5 }
      }
    }
  },
  plugins: [decor]
});
</script>
</body>
</html>
